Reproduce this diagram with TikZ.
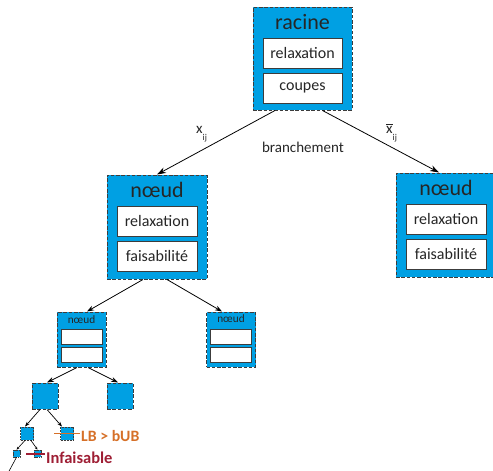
\documentclass[tikz,border=0pt]{standalone}
\usepackage{fontspec}
\setmainfont{Carlito}
\usetikzlibrary{arrows.meta,calc}
\definecolor{nodeblue}{RGB}{0,160,227}
\definecolor{edgegray}{RGB}{60,60,60}
\definecolor{lborange}{RGB}{214,112,40}
\definecolor{infred}{RGB}{158,30,52}

\begin{document}
\begin{tikzpicture}[x=1pt,y=-1pt,
  bnode/.style={draw=edgegray, fill=nodeblue, dash pattern=on 3.5pt off 1.8pt,
    line width=1pt, inner sep=0pt},
  bigbox/.style={bnode, minimum width=100pt, minimum height=104pt},
  midbox/.style={bnode, minimum width=49pt, minimum height=55pt},
  sqbox/.style={bnode, minimum size=26pt},
  smbox/.style={bnode, minimum size=13pt, line width=0.8pt, dash pattern=on 2pt off 1pt},
  tinybox/.style={bnode, minimum size=7pt, line width=0.6pt, dash pattern=on 1.5pt off 0.8pt},
  ibox/.style={draw=edgegray, fill=white, line width=0.9pt, inner sep=0pt,
    minimum width=80pt, minimum height=30pt, text=black!85,
    font=\fontsize{16}{18}\selectfont},
  sbox/.style={draw=edgegray, fill=white, line width=0.8pt, inner sep=0pt,
    minimum width=41pt, minimum height=15pt},
  ttl/.style={inner sep=0pt, anchor=base, text=black!85, font=\fontsize{22}{24}\selectfont},
  sttl/.style={inner sep=0pt, anchor=base, text=black!85, font=\fontsize{11.3}{13}\selectfont},
  lbl/.style={inner sep=0pt, text=black!85, font=\fontsize{15}{17}\selectfont},
  arr/.style={-{Stealth[length=9pt,width=6pt]}, line width=0.8pt},
  marr/.style={-{Stealth[length=7pt,width=5pt]}, line width=0.8pt},
  sarr/.style={-{Stealth[length=5pt,width=3.5pt]}, line width=0.7pt},
  tarr/.style={-{Stealth[length=3pt,width=2.5pt]}, line width=0.6pt},
]
\useasboundingbox (0,0) rectangle (493,471);

% root node
\node[bnode, minimum width=99pt, minimum height=103pt] (root) at (302.5,58.5) {};
\node[ttl] (root-t) at (302.5,29) {racine};
\node[ibox, minimum width=79pt] (root-r) at (302.5,53) {relaxation};
\node[ibox, minimum width=79pt] (root-c) at (302.5,88) {coupes};

% first level children
\node[bigbox] (lc) at (157,227) {};
\node[ttl] (lc-t) at (157,197) {nœud};
\node[ibox] (lc-r) at (157,221) {relaxation};
\node[ibox] (lc-f) at (157,256) {faisabilité};

\node[bigbox] (rc) at (446,225) {};
\node[ttl] (rc-t) at (446,195) {nœud};
\node[ibox] (rc-r) at (446,219) {relaxation};
\node[ibox] (rc-f) at (446,254) {faisabilité};

% second level
\node[midbox] (l3a) at (81.5,339.5) {};
\node[sttl] (l3a-t) at (81.5,323) {nœud};
\node[sbox] (l3a-r) at (81.5,336.5) {};
\node[sbox] (l3a-f) at (81.5,354.5) {};

\node[midbox] (l3b) at (231,339.5) {};
\node[sttl] (l3b-t) at (231,322.5) {nœud};
\node[sbox] (l3b-r) at (231,336.5) {};
\node[sbox] (l3b-f) at (231,354.5) {};

% deeper levels
\node[sqbox] (l4a) at (45,396) {};
\node[sqbox] (l4b) at (120,396) {};
\node[smbox] (l5a) at (27,433.5) {};
\node[smbox] (l5b) at (67,433.5) {};
\node[tinybox] (l6a) at (16.5,453.5) {};
\node[tinybox] (l6b) at (37.5,453.5) {};
\coordinate (off) at (8,473);

% branching labels
\node[lbl] (br) at (303,147) {branchement};
\node[lbl, anchor=base west] (xl) at (196,133) {x\raisebox{-7.5pt}{\fontsize{9}{9}\selectfont ij}};
\node[lbl, anchor=base west] (xr) at (386,133) {$\overline{\hbox{x}}$\raisebox{-7.5pt}{\fontsize{9}{9}\selectfont ij}};

% pruning labels
\node[inner sep=0pt, anchor=west, text=lborange, font=\bfseries\fontsize{15.8}{18}\selectfont] (lb) at (81,436) {LB > bUB};
\node[inner sep=0pt, anchor=west, text=infred, font=\bfseries\fontsize{16.5}{18}\selectfont] (inf) at (46,457.5) {Infaisable};

% connectors
\draw[arr] ([xshift=-27.5pt]root.south) -- (lc.north);
\draw[arr] ([xshift=20pt]root.south) -- ([xshift=-7pt]rc.north);
\draw[marr] ([xshift=-14pt]lc.south) -- ([xshift=5.5pt]l3a.north);
\draw[marr] ([xshift=10pt]lc.south) -- ([xshift=-9pt]l3b.north);
\draw[marr] ([xshift=-4.5pt]l3a.south) -- ([xshift=2pt]l4a.north);
\draw[marr] ([xshift=6.5pt]l3a.south) -- ([xshift=-2pt]l4b.north);
\draw[sarr] ([xshift=-5pt]l4a.south) -- ([xshift=-2pt]l5a.north);
\draw[sarr] ([xshift=2pt]l4a.south) -- ([xshift=-5pt]l5b.north);
\draw[tarr] ([xshift=-2pt]l5a.south) -- (l6a.north);
\draw[tarr] ([xshift=4pt]l5a.south) -- (l6b.north);
\draw[line width=0.6pt] (l6a.south) -- (off);

% pruning strokes
\draw[lborange, line width=1.2pt] ([xshift=-6pt]l5b.west) -- ([xshift=-1pt]l5b.west -| lb.west);
\draw[infred, line width=1.2pt] ([xshift=-7.5pt,yshift=-0.5pt]l6b.west) -- ([xshift=-1pt,yshift=-0.5pt]l6b.west -| inf.west);
\end{tikzpicture}
\end{document}
